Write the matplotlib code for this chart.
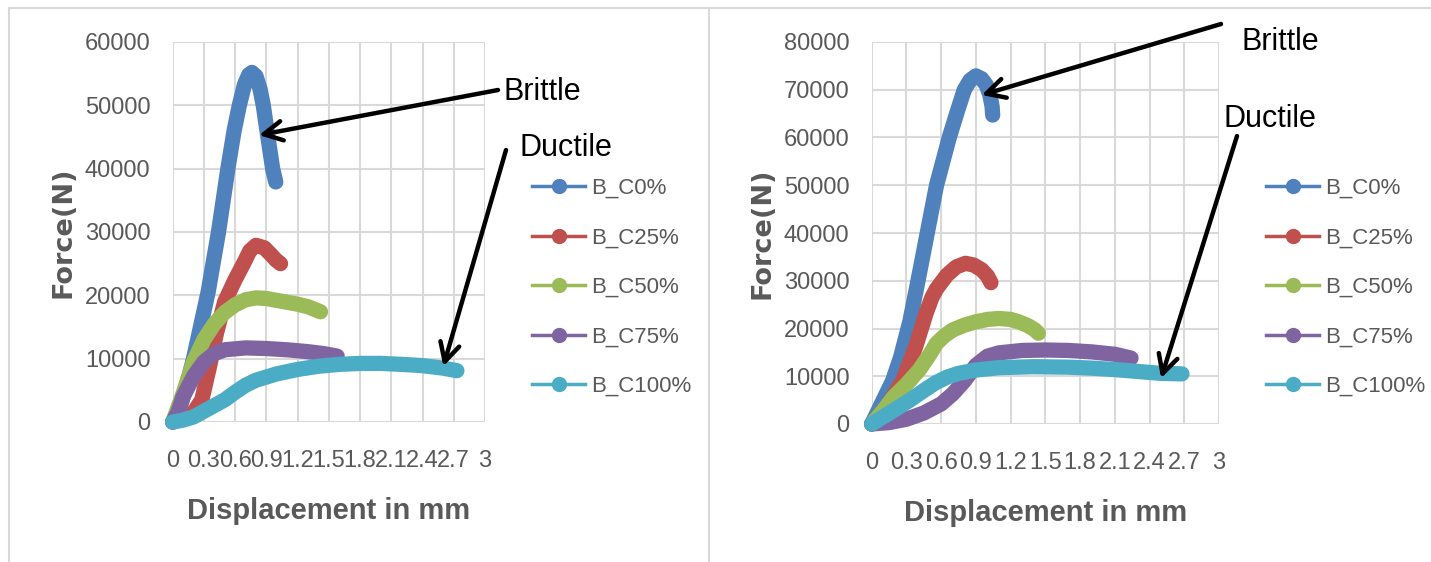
import matplotlib
matplotlib.use('Agg')
import matplotlib.pyplot as plt
from matplotlib.lines import Line2D

# series labels and colours (Excel 2010 palette)
labels = ['B_C0%', 'B_C25%', 'B_C50%', 'B_C75%', 'B_C100%']
colors = ['#4F81BD', '#C0504D', '#9BBB59', '#8064A2', '#4BACC6']

# left chart: displacement (mm) / force (N)
left_c0_x = [0, 0.05, 0.1, 0.15, 0.2, 0.26, 0.34, 0.44, 0.53, 0.59, 0.64, 0.69, 0.73, 0.76, 0.8, 0.84, 0.87, 0.91, 0.96, 0.99]
left_c0_y = [0, 1300, 3900, 6800, 10000, 14500, 20500, 30000, 40000, 46000, 50000, 53300, 54800, 55200, 54600, 52500, 50000, 45500, 40000, 37900]
left_c25_x = [0, 0.1, 0.2, 0.28, 0.35, 0.42, 0.5, 0.6, 0.68, 0.74, 0.8, 0.88, 0.94, 0.99, 1.036]
left_c25_y = [0, 500, 1500, 3500, 8500, 14000, 19000, 22500, 25000, 27000, 27900, 27500, 26500, 25600, 25000]
left_c50_x = [0, 0.1, 0.2, 0.3, 0.4, 0.5, 0.6, 0.7, 0.8, 0.9, 1.0, 1.1, 1.2, 1.3, 1.42]
left_c50_y = [0, 4500, 9500, 13000, 15500, 17300, 18500, 19300, 19600, 19500, 19200, 18900, 18600, 18200, 17400]
left_c75_x = [0, 0.05, 0.1, 0.2, 0.3, 0.4, 0.5, 0.7, 0.9, 1.1, 1.3, 1.45, 1.58]
left_c75_y = [0, 1500, 4000, 7200, 9500, 10800, 11400, 11700, 11600, 11400, 11100, 10800, 10400]
left_c100_x = [0, 0.1, 0.2, 0.3, 0.4, 0.5, 0.6, 0.7, 0.8, 0.9, 1.0, 1.2, 1.4, 1.6, 1.8, 2.0, 2.2, 2.4, 2.6, 2.73]
left_c100_y = [0, 300, 800, 1700, 2600, 3500, 4700, 5800, 6600, 7100, 7600, 8300, 8800, 9100, 9250, 9250, 9100, 8900, 8500, 8100]

# right chart
right_c0_x = [0, 0.07, 0.18, 0.25, 0.33, 0.4, 0.48, 0.56, 0.67, 0.74, 0.8, 0.85, 0.9, 0.95, 0.99, 1.02, 1.04, 1.045]
right_c0_y = [0, 3500, 9000, 14000, 21500, 30000, 40000, 50000, 60000, 65500, 70000, 72000, 72900, 72300, 71000, 69000, 66500, 64700]
right_c25_x = [0, 0.13, 0.27, 0.38, 0.47, 0.52, 0.56, 0.65, 0.73, 0.81, 0.88, 0.95, 1.0, 1.03]
right_c25_y = [0, 3600, 9200, 16200, 23200, 26500, 28300, 31200, 32900, 33650, 33300, 32300, 31000, 29600]
right_c50_x = [0, 0.1, 0.19, 0.3, 0.41, 0.5, 0.56, 0.63, 0.7, 0.8, 0.9, 1.0, 1.1, 1.2, 1.27, 1.35, 1.41, 1.44]
right_c50_y = [0, 2800, 5700, 8300, 11300, 14500, 16900, 18500, 19700, 20700, 21400, 21900, 22100, 21900, 21400, 20600, 19700, 19000]
right_c75_x = [0, 0.15, 0.3, 0.45, 0.6, 0.7, 0.8, 0.9, 1.0, 1.1, 1.3, 1.5, 1.7, 1.9, 2.1, 2.24]
right_c75_y = [0, 300, 1000, 2300, 4200, 6300, 9000, 12300, 14200, 14900, 15400, 15500, 15400, 15100, 14600, 13800]
right_c100_x = [0, 0.1, 0.2, 0.33, 0.45, 0.55, 0.65, 0.75, 0.9, 1.1, 1.4, 1.7, 1.9, 2.1, 2.3, 2.5, 2.68]
right_c100_y = [0, 1500, 3000, 5000, 7000, 8600, 9800, 10600, 11300, 11800, 12000, 11900, 11700, 11400, 11000, 10600, 10500]

x_ticks = [0, 0.3, 0.6, 0.9, 1.2, 1.5, 1.8, 2.1, 2.4, 2.7, 3]
x_tick_labels = ['0', '0.3', '0.6', '0.9', '1.2', '1.5', '1.8', '2.1', '2.4', '2.7', '3']
left_y_ticks = [0, 10000, 20000, 30000, 40000, 50000, 60000]
right_y_ticks = [0, 10000, 20000, 30000, 40000, 50000, 60000, 70000, 80000]

narrow = ['Liberation Sans Narrow', 'Liberation Sans', 'DejaVu Sans']
gray = '#595959'

W, H = 1431, 562
fig = plt.figure(figsize=(W / 100, H / 100), dpi=100)


def px(x, y):
    # figure pixel (from top-left) -> figure fraction
    return x / W, 1 - y / H


def setup_axes(rect, yticks, ymax):
    ax = fig.add_axes(rect)
    ax.set_xlim(0, 3)
    ax.set_ylim(0, ymax)
    ax.set_xticks(x_ticks)
    ax.set_xticklabels(x_tick_labels)
    ax.set_yticks(yticks)
    ax.set_yticklabels([str(v) for v in yticks])
    for s in ax.spines.values():
        s.set_visible(False)
    ax.grid(True, color='#D9D9D9', lw=1.5)
    ax.set_axisbelow(True)
    ax.tick_params(length=0, labelsize=17, labelcolor=gray)
    ax.tick_params(axis='y', pad=16)
    ax.tick_params(axis='x', pad=20)
    for t in ax.get_xticklabels() + ax.get_yticklabels():
        t.set_family(narrow)
    ax.set_xlabel('Displacement in mm', family=narrow, fontsize=21, fontweight='bold',
                  color=gray, labelpad=18)
    ax.set_ylabel('Force(N)', family='DejaVu Sans', fontsize=19.5, fontweight='bold',
                  color=gray, labelpad=6)
    return ax


def draw_series(ax, xs, ys):
    for x, y, c, lab in zip(xs, ys, colors, labels):
        ax.plot(x, y, color=c, lw=11, solid_capstyle='round', solid_joinstyle='round',
                clip_on=False, label=lab)


def draw_legend(ax, left_px):
    handles = [Line2D([0], [0], color=c, lw=2.5, marker='o', markersize=10) for c in colors]
    fx, fy = px(left_px, 287.5)
    leg = ax.legend(handles, labels, loc='center left', bbox_to_anchor=(fx, fy),
                    bbox_transform=fig.transFigure, frameon=False, borderpad=0,
                    borderaxespad=0, handlelength=2.4, handletextpad=0.25,
                    labelspacing=1.28, prop={'family': narrow, 'size': 16})
    for t in leg.get_texts():
        t.set_color(gray)


def arrow(ax, xy, tail):
    ax.annotate('', xy=xy, xycoords='data', xytext=px(*tail), textcoords='figure fraction',
                arrowprops=dict(arrowstyle='->,head_length=0.95,head_width=0.5',
                                color='black', lw=3.2, shrinkA=0, shrinkB=0, mutation_scale=14),
                annotation_clip=False)


# left chart
ax1 = setup_axes([172.7 / W, 1 - 422 / H, (485 - 172.7) / W, (422 - 42) / H], left_y_ticks, 60000)
draw_series(ax1, [left_c0_x, left_c25_x, left_c50_x, left_c75_x, left_c100_x],
            [left_c0_y, left_c25_y, left_c50_y, left_c75_y, left_c100_y])
draw_legend(ax1, 532)
arrow(ax1, (0.83, 45300), (498, 90))
arrow(ax1, (2.6, 8800), (506, 150))
fig.text(*px(503, 92), 'Brittle', family=narrow, fontsize=22, va='center', ha='left')
fig.text(*px(520, 148), 'Ductile', family=narrow, fontsize=22, va='center', ha='left')

# right chart
ax2 = setup_axes([871.7 / W, 1 - 424 / H, (1219 - 871.7) / W, (424 - 42) / H], right_y_ticks, 80000)
draw_series(ax2, [right_c0_x, right_c25_x, right_c50_x, right_c75_x, right_c100_x],
            [right_c0_y, right_c25_y, right_c50_y, right_c75_y, right_c100_y])
draw_legend(ax2, 1266)
arrow(ax2, (0.95, 68900), (1221, 24))
arrow(ax2, (2.5, 9600), (1237, 136))
fig.text(*px(1241, 42), 'Brittle', family=narrow, fontsize=22, va='center', ha='left')
fig.text(*px(1224, 119), 'Ductile', family=narrow, fontsize=22, va='center', ha='left')

# chart area borders
border = dict(color='#D9D9D9', lw=1.5, transform=fig.transFigure)
fig.add_artist(Line2D([9 / W, 1], [1 - 8 / H, 1 - 8 / H], **border))
fig.add_artist(Line2D([9 / W, 9 / W], [0, 1 - 8 / H], **border))
fig.add_artist(Line2D([709 / W, 709 / W], [0, 1 - 8 / H], **border))

fig.savefig('out.png', dpi=100)
